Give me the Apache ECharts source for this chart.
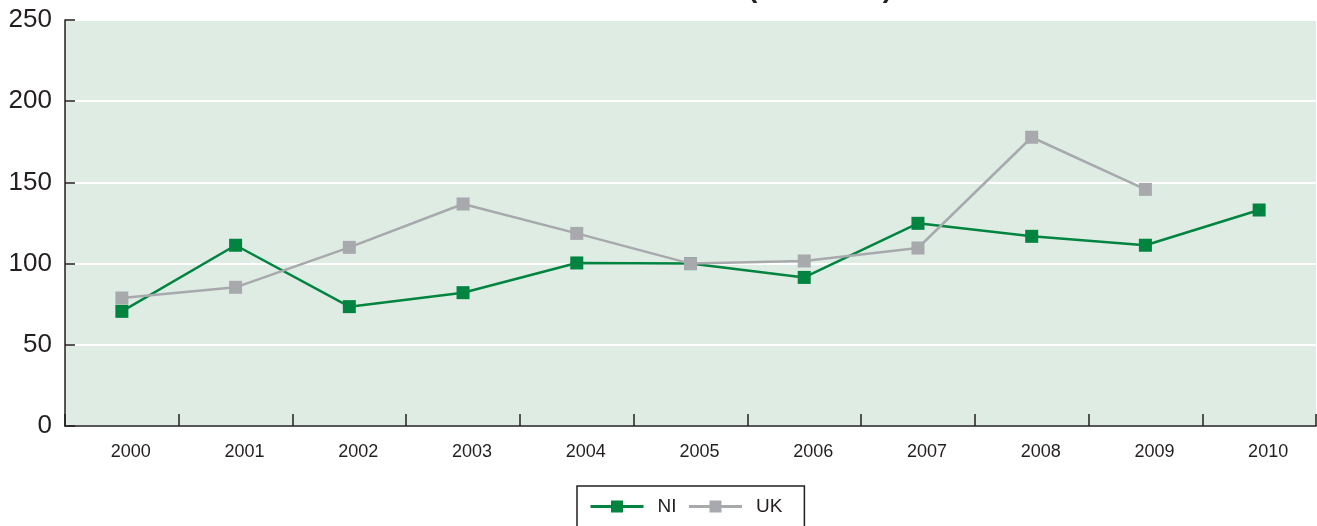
<!DOCTYPE html>
<html>
<head>
<meta charset="utf-8">
<script src="https://cdn.jsdelivr.net/npm/echarts@6/dist/echarts.min.js"></script>
<style>
  html, body { margin: 0; padding: 0; background: #ffffff; }
  #chart { width: 1317px; height: 526px; }
</style>
</head>
<body>
<div id="chart"></div>
<script>
// Index values, 2005 = 100
const years = ['2000', '2001', '2002', '2003', '2004', '2005', '2006', '2007', '2008', '2009', '2010'];
const niValues = [70.6, 111.3, 73.5, 82.1, 100.4, 100, 91.5, 124.8, 116.8, 111.3, 133];
const ukValues = [78.8, 85.4, 110, 136.7, 118.6, 100, 101.6, 109.6, 177.8, 145.7, null];
const yTicks = { min: 0, max: 250, step: 50 };

const NI_GREEN = '#00843f';
const UK_GREY = '#a7a9ac';
const INK = '#231f20';
const FONT = 'Liberation Sans, Arial, Helvetica, sans-serif';

const chart = echarts.init(document.getElementById('chart'));

function lineSeries(name, values, color) {
  return {
    name: name,
    type: 'line',
    data: values,
    symbol: 'rect',
    symbolSize: 13,
    showSymbol: true,
    connectNulls: false,
    lineStyle: { color: color, width: 2.5 },
    itemStyle: { color: color },
    emphasis: { disabled: true },
    animation: false
  };
}

chart.setOption({
  backgroundColor: '#ffffff',
  animation: false,
  title: {
    text: '(2005=100)',
    left: 743,
    top: -30,
    textStyle: { fontFamily: FONT, fontSize: 28, fontWeight: 'bold', color: INK }
  },
  grid: {
    left: 65,
    right: 1,
    top: 20,
    bottom: 100,
    show: true,
    backgroundColor: '#deece4',
    borderWidth: 0
  },
  legend: {
    data: ['NI', 'UK'],
    left: 577,
    top: 486,
    orient: 'horizontal',
    padding: [11, 22, 14, 12],
    itemGap: 11,
    itemWidth: 53,
    itemHeight: 15,
    lineStyle: { width: 3 },
    borderColor: INK,
    borderWidth: 1.5,
    backgroundColor: '#ffffff',
    textStyle: { fontFamily: FONT, fontSize: 19, color: INK, padding: [0, 0, 0, 9] }
  },
  xAxis: {
    type: 'category',
    data: years,
    boundaryGap: true,
    axisLine: { show: true, lineStyle: { color: INK, width: 1.5 } },
    axisTick: { show: true, inside: true, length: 12, lineStyle: { color: INK, width: 1.5 } },
    axisLabel: { fontFamily: FONT, fontSize: 18, color: INK, margin: 17, padding: [0, 0, 0, 18] },
    splitLine: { show: false }
  },
  yAxis: {
    type: 'value',
    min: yTicks.min,
    max: yTicks.max,
    interval: yTicks.step,
    axisLine: { show: true, lineStyle: { color: INK, width: 1.5 } },
    axisTick: { show: true, inside: true, length: 10, lineStyle: { color: INK, width: 1.5 } },
    axisLabel: { fontFamily: FONT, fontSize: 26, color: INK, margin: 13 },
    splitLine: { show: true, lineStyle: { color: '#ffffff', width: 2 } }
  },
  series: [
    lineSeries('NI', niValues, NI_GREEN),
    lineSeries('UK', ukValues, UK_GREY)
  ]
});
</script>
</body>
</html>
